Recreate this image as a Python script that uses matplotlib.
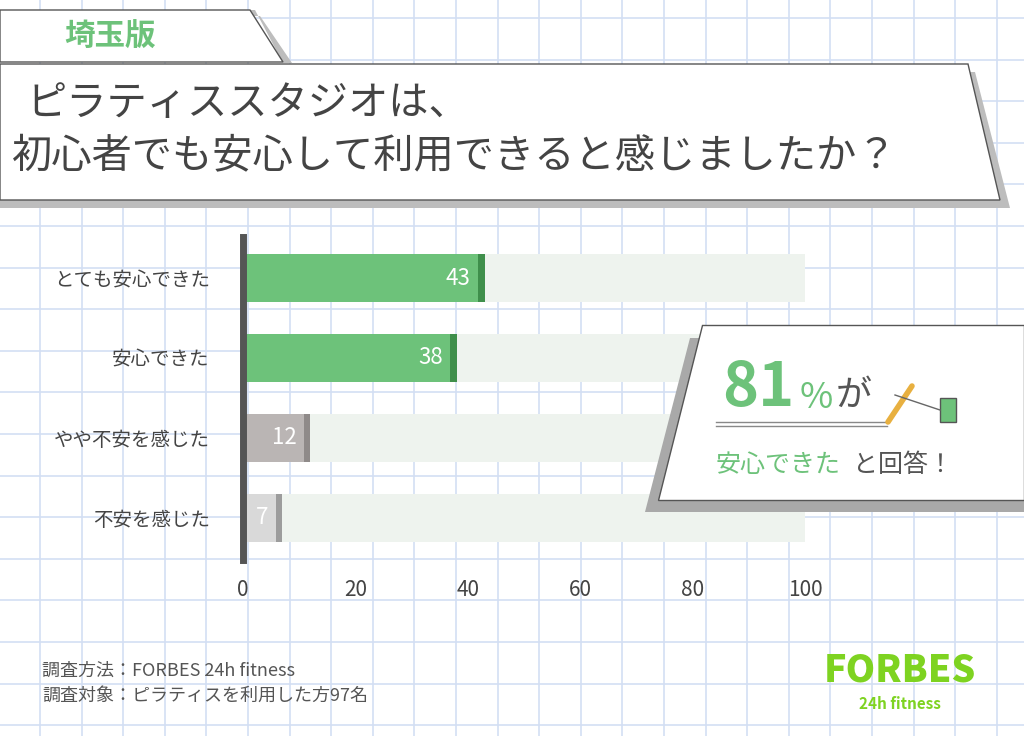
import matplotlib.pyplot as plt
import matplotlib.patches as mpatches
import numpy as np

plt.rcParams['font.family'] = ['Noto Sans CJK JP', 'DejaVu Sans']

categories = ['とても安心できた', '安心できた', 'やや不安を感じた', '不安を感じた']
values = [43, 38, 12, 7]
bar_colors = ['#6dc27a', '#6dc27a', '#bab5b4', '#d9d9d9']
cap_colors = ['#3f8f4b', '#3f8f4b', '#8f8a89', '#9c9c9c']
xticks = [0, 20, 40, 60, 80, 100]

W, H = 1024, 736
fig = plt.figure(figsize=(W / 100, H / 100), dpi=100)

# background overlay in pixel coords
bg = fig.add_axes([0, 0, 1, 1], zorder=0)
bg.set_xlim(0, W)
bg.set_ylim(H, 0)
bg.axis('off')
for gx in np.arange(40, W, 41.6):
    bg.axvline(gx, color='#d3dff3', lw=1.2, zorder=0)
for gy in np.arange(18, H, 41.6):
    bg.axhline(gy, color='#d3dff3', lw=1.2, zorder=0)

# tag box
bg.add_patch(mpatches.Polygon([[0, 16], [260, 16], [292, 63], [283, 63], [255, 10], [0, 10]], closed=True, fc='#bdbdbd', ec='none', zorder=1))
bg.add_patch(mpatches.Polygon([[0, 10], [250, 10], [283, 62], [0, 62]], closed=True, fc='white', ec='#555555', lw=1, zorder=2))
bg.text(110, 37, '埼玉版', color='#6dc27a', fontsize=22, fontweight='bold', ha='center', va='center', zorder=3)

# title box
bg.add_patch(mpatches.Polygon([[0, 72], [975, 72], [1010, 208], [0, 208]], closed=True, fc='#bdbdbd', ec='none', zorder=1))
bg.add_patch(mpatches.Polygon([[0, 64], [968, 64], [1000, 200], [0, 200]], closed=True, fc='white', ec='#555555', lw=1, zorder=2))
bg.text(26, 104, 'ピラティススタジオは、', color='#444444', fontsize=29, ha='left', va='center', zorder=3)
bg.text(12, 156, '初心者でも安心して利用できると感じましたか？', color='#444444', fontsize=29, ha='left', va='center', zorder=3)

# footer
bg.text(42, 671, '調査方法：FORBES 24h fitness', color='#555555', fontsize=13, ha='left', va='center')
bg.text(42, 696, '調査対象：ピラティスを利用した方97名', color='#555555', fontsize=13, ha='left', va='center')
bg.text(900, 670, 'FORBES', color='#7ed321', fontsize=27, fontweight='heavy', style='italic', ha='center', va='center')
bg.text(900, 704, '24h fitness', color='#7ed321', fontsize=11, fontweight='bold', style='italic', ha='center', va='center')

# bar chart
ax = fig.add_axes([243 / W, (H - 560) / H, 562 / W, 323 / H], zorder=1)
ax.patch.set_alpha(0)
y = np.arange(len(categories))
ax.barh(y, [100] * len(y), height=0.6, color='#eef3ee', zorder=1)
ax.barh(y, values, height=0.6, color=bar_colors, zorder=2)
for i, v in enumerate(values):
    ax.barh(i, 1.1, left=v - 1.1, height=0.6, color=cap_colors[i], zorder=3)
    ax.text(v - 2.5, i, str(v), color='white', fontsize=16, ha='right', va='center', zorder=4)
ax.set_xlim(0, 100)
ax.set_ylim(3.53, -0.515)
ax.set_yticks(y)
ax.set_yticklabels(categories, fontsize=14, color='#444444')
ax.set_xticks(xticks)
ax.set_xticklabels([str(t) for t in xticks], fontsize=15, color='#444444')
ax.tick_params(length=0, pad=14)
ax.tick_params(axis='y', pad=24)
for s in ['top', 'right', 'bottom']:
    ax.spines[s].set_visible(False)
ax.spines['left'].set_linewidth(5)
ax.spines['left'].set_color('#555555')

# callout overlay
co = fig.add_axes([0, 0, 1, 1], zorder=2)
co.set_xlim(0, W)
co.set_ylim(H, 0)
co.axis('off')
co.patch.set_alpha(0)
co.add_patch(mpatches.Polygon([[690, 338], [1024, 338], [1024, 512], [645, 512]], closed=True, fc='#a9a9a9', ec='none'))
co.add_patch(mpatches.Polygon([[702, 325], [1024, 325], [1024, 500], [658, 500]], closed=True, fc='white', ec='#555555', lw=1))
co.text(722, 388, '81', color='#6dc27a', fontsize=44, fontweight='bold', style='italic', ha='left', va='center')
co.text(800, 398, '%', color='#6dc27a', fontsize=26, ha='left', va='center')
co.text(836, 396, 'が', color='#555555', fontsize=26, ha='left', va='center')
co.plot([716, 887], [422, 422], color='#888888', lw=1)
co.plot([716, 887], [426, 426], color='#888888', lw=1)
co.plot([888, 912], [422, 386], color='#e8b040', lw=4, solid_capstyle='round')
co.plot([895, 940], [395, 410], color='#666666', lw=1)
co.add_patch(mpatches.Rectangle((940, 398), 16, 24, fc='#6dc27a', ec='#555555', lw=1))
co.text(716, 465, '安心できた', color='#6dc27a', fontsize=18, ha='left', va='center')
co.text(853, 465, 'と回答！', color='#555555', fontsize=18, ha='left', va='center')

fig.savefig('out.png', dpi=100)
